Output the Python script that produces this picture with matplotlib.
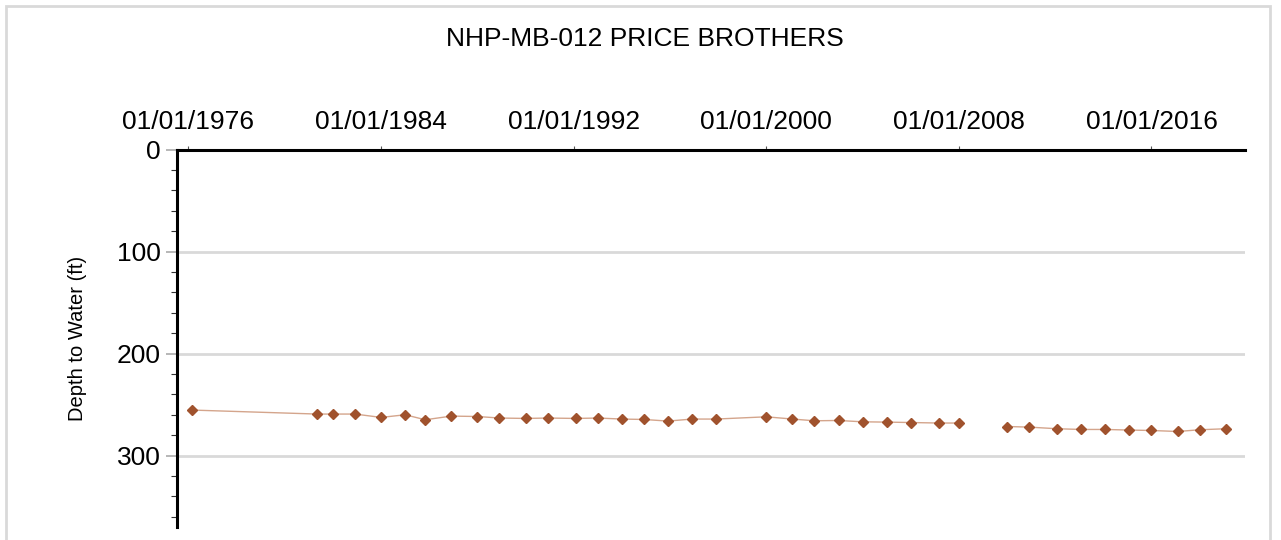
from datetime import datetime

import matplotlib
matplotlib.use("Agg")
import matplotlib.pyplot as plt
import matplotlib.dates as mdates
from matplotlib.patches import Rectangle
from matplotlib.ticker import MultipleLocator
import numpy as np

plt.rcParams["font.family"] = ["Liberation Sans", "DejaVu Sans"]

# measurement dates (YYYY-MM) and depth to water (ft); NaN = no record (line break)
dates = [
    "1976-03", "1981-05", "1982-01", "1982-12", "1984-01", "1985-01",
    "1985-11", "1986-12", "1988-01", "1988-12", "1990-01", "1990-12",
    "1992-02", "1993-01", "1994-01", "1994-12", "1995-12", "1996-12",
    "1997-12", "2000-01", "2001-02", "2002-01", "2003-01", "2004-01",
    "2005-01", "2006-01", "2007-03", "2008-01", "2009-01", "2010-01",
    "2010-12", "2012-02", "2013-02", "2014-02", "2015-02", "2016-01",
    "2017-02", "2018-01", "2019-02",
]
depth = [
    255.4, 259.3, 259.3, 259.3, 262.6, 260.0,
    264.9, 261.3, 261.7, 263.2, 263.6, 263.2,
    263.6, 263.2, 264.2, 264.6, 266.2, 264.2,
    264.2, 262.0, 264.2, 265.9, 265.6, 266.9,
    267.2, 267.6, 268.1, 268.1, np.nan, 271.5,
    272.1, 273.7, 274.4, 274.4, 275.0, 275.4,
    276.4, 274.7, 273.7,
]

title = "NHP-MB-012 PRICE BROTHERS"
ylabel = "Depth to Water (ft)"

xs = [datetime.strptime(d, "%Y-%m") for d in dates]
ys = np.array(depth, dtype=float)

fig = plt.figure(figsize=(12.81, 5.40), dpi=100)
ax = fig.add_axes([0.1384, 0.0241, 0.9719 - 0.1384, 0.7231 - 0.0241])

# outer frame
fig.patches.append(Rectangle((6 / 1281, -0.05), (1270 - 6) / 1281, 1 - 6 / 540 + 0.05,
                             transform=fig.transFigure, fill=False,
                             edgecolor="#d9d9d9", linewidth=2))

ax.plot(xs, ys, color="#d4a58c", linewidth=1.0, zorder=2)
ax.plot(xs, ys, linestyle="none", marker="D", markersize=5.5,
        color="#a0522d", markeredgecolor="#a0522d", zorder=3)

ax.set_xlim(datetime(1975, 7, 15), datetime(2019, 11, 20))
ax.set_ylim(370, 0)

ax.xaxis.set_major_locator(mdates.YearLocator(8, month=1, day=1))
ax.xaxis.set_major_formatter(mdates.DateFormatter("%m/%d/%Y"))
ax.xaxis.tick_top()
ax.tick_params(axis="x", which="major", direction="out", length=3, width=0.8,
               color="#555555", labelsize=19, pad=8)

ax.yaxis.set_major_locator(MultipleLocator(100))
ax.yaxis.set_minor_locator(MultipleLocator(20))
ax.tick_params(axis="y", which="major", direction="out", length=8, width=1.2,
               color="#aaaaaa", labelsize=19, pad=4)
ax.tick_params(axis="y", which="minor", direction="out", length=4, width=0.8,
               color="#333333")

ax.grid(axis="y", which="major", color="#d9d9d9", linewidth=2)
ax.set_axisbelow(True)

for side in ("right", "bottom"):
    ax.spines[side].set_visible(False)
for side in ("left", "top"):
    ax.spines[side].set_linewidth(2.2)
    ax.spines[side].set_color("black")

ax.set_ylabel(ylabel, fontsize=14.5, labelpad=21)
fig.text(645 / 1281, 1 - 39 / 540, title, fontsize=19, ha="center", va="center")

fig.savefig("out.png", dpi=100)
